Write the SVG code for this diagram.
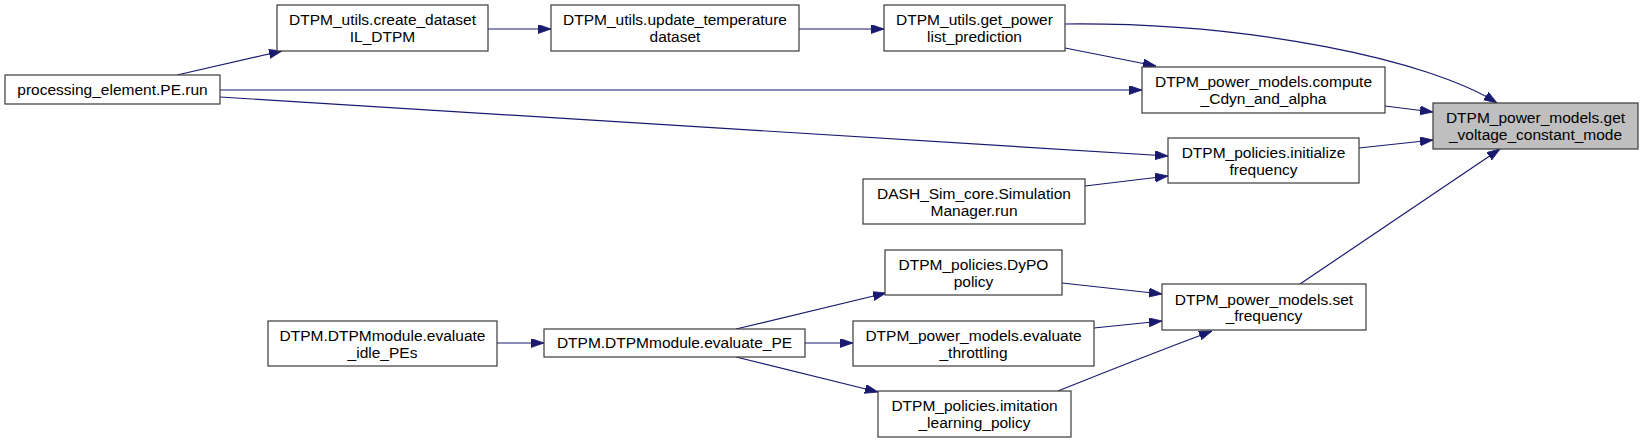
<svg xmlns="http://www.w3.org/2000/svg" width="1644" height="443" viewBox="0 0 1644 443">
<style>
.n rect{fill:#ffffff;stroke:#3a3a3a;stroke-width:1.2}
.n.hl rect{fill:#bfbfbf}
.n text{font-family:"Liberation Sans",Arial,sans-serif;font-size:15.5px;fill:#000;text-anchor:middle}
.e path{fill:none;stroke:#191970;stroke-width:1.2}
</style>
<defs>
<marker id="ah" markerUnits="userSpaceOnUse" markerWidth="14" markerHeight="10" refX="13" refY="4.5" orient="auto">
<path d="M0,0 L13,4.5 L0,9 z" fill="#191970" stroke="#191970" stroke-width="0.8"/>
</marker>
</defs>
<rect width="1644" height="443" fill="#ffffff"/>
<g id="connectors" class="e">
<path d="M177,75 L282,51" marker-end="url(#ah)"/>
<path d="M488,29 L551,29" marker-end="url(#ah)"/>
<path d="M799,29 L884,29" marker-end="url(#ah)"/>
<path d="M1065,24 C1250,22 1430,60 1497,103" marker-end="url(#ah)"/>
<path d="M1065,48 L1156,66" marker-end="url(#ah)"/>
<path d="M220,90 L1142,90" marker-end="url(#ah)"/>
<path d="M220,97 L1168,156" marker-end="url(#ah)"/>
<path d="M1385,106 L1433,112" marker-end="url(#ah)"/>
<path d="M1359,148 L1433,140" marker-end="url(#ah)"/>
<path d="M1085,186 L1168,176" marker-end="url(#ah)"/>
<path d="M1300,284 L1500,149" marker-end="url(#ah)"/>
<path d="M497,343 L544,343" marker-end="url(#ah)"/>
<path d="M736,329 L886,293" marker-end="url(#ah)"/>
<path d="M805,343 L853,343" marker-end="url(#ah)"/>
<path d="M736,357 L878,392" marker-end="url(#ah)"/>
<path d="M1062,283 L1162,294" marker-end="url(#ah)"/>
<path d="M1094,328 L1162,321" marker-end="url(#ah)"/>
<path d="M1058,391 Q1140,358 1212,331" marker-end="url(#ah)"/>
</g>
<g id="processing_element" class="n"><rect x="5" y="75" width="215" height="29"/><text x="112.5" y="94.5">processing_element.PE.run</text></g>
<g id="create_dataset" class="n"><rect x="277" y="5" width="211" height="46"/><text x="382.5" y="25">DTPM_utils.create_dataset</text><text x="382.5" y="41.5">IL_DTPM</text></g>
<g id="update_temperature" class="n"><rect x="551" y="5" width="248" height="46"/><text x="675" y="25">DTPM_utils.update_temperature</text><text x="675" y="41.5">dataset</text></g>
<g id="get_power" class="n"><rect x="884" y="5" width="181" height="46"/><text x="974.5" y="25">DTPM_utils.get_power</text><text x="974.5" y="41.5">list_prediction</text></g>
<g id="compute_cdyn" class="n"><rect x="1142" y="67" width="243" height="46"/><text x="1263.5" y="87">DTPM_power_models.compute</text><text x="1263.5" y="103.5">_Cdyn_and_alpha</text></g>
<g id="get_voltage" class="n hl"><rect x="1433" y="103" width="205" height="46"/><text x="1535.5" y="123">DTPM_power_models.get</text><text x="1535.5" y="139.5">_voltage_constant_mode</text></g>
<g id="initialize_frequency" class="n"><rect x="1168" y="138" width="191" height="45"/><text x="1263.5" y="158">DTPM_policies.initialize</text><text x="1263.5" y="174.5">frequency</text></g>
<g id="simulation_manager" class="n"><rect x="863" y="179" width="222" height="45"/><text x="974" y="199">DASH_Sim_core.Simulation</text><text x="974" y="215.5">Manager.run</text></g>
<g id="dypo_policy" class="n"><rect x="885" y="250" width="177" height="45"/><text x="973.5" y="270">DTPM_policies.DyPO</text><text x="973.5" y="286.5">policy</text></g>
<g id="set_frequency" class="n"><rect x="1162" y="284" width="204" height="46"/><text x="1264" y="304.5">DTPM_power_models.set</text><text x="1264" y="321">_frequency</text></g>
<g id="evaluate_idle_PEs" class="n"><rect x="268" y="321" width="229" height="45"/><text x="382.5" y="341">DTPM.DTPMmodule.evaluate</text><text x="382.5" y="357.5">_idle_PEs</text></g>
<g id="evaluate_PE" class="n"><rect x="544" y="329" width="261" height="28"/><text x="674.5" y="348">DTPM.DTPMmodule.evaluate_PE</text></g>
<g id="evaluate_throttling" class="n"><rect x="853" y="321" width="241" height="45"/><text x="973.5" y="341">DTPM_power_models.evaluate</text><text x="973.5" y="357.5">_throttling</text></g>
<g id="imitation_learning" class="n"><rect x="878" y="391" width="193" height="46"/><text x="974.5" y="411">DTPM_policies.imitation</text><text x="974.5" y="427.5">_learning_policy</text></g>
</svg>
